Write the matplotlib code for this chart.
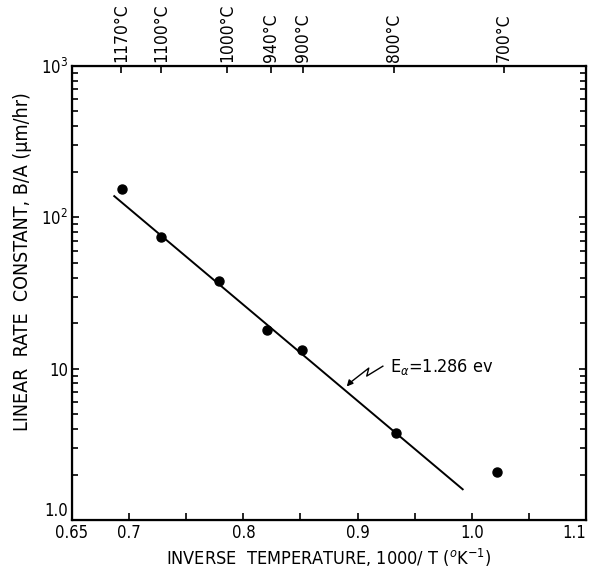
import numpy as np
import matplotlib
matplotlib.use("Agg")
import matplotlib.pyplot as plt
from matplotlib.ticker import FixedLocator, NullFormatter

plt.rcParams['font.family'] = ['DejaVu Sans']
plt.rcParams['font.stretch'] = 'condensed'
plt.rcParams['mathtext.fontset'] = 'dejavusans'

# measured points: inverse temperature (1000/T) vs linear rate constant B/A
inv_temp = [0.694, 0.728, 0.779, 0.821, 0.8515, 0.9335, 1.0216]
rate = [155, 74, 38, 18.0, 13.3, 3.78, 2.08]

# fitted line end points
fit_x = [0.687, 0.992]
fit_y = [138, 1.60]

# temperatures shown on the top axis
top_temps = [1170, 1100, 1000, 940, 900, 800, 700]

fig = plt.figure(figsize=(5.95, 5.78), dpi=100)
ax = fig.add_axes([0.121, 0.100, 0.864, 0.786])

ax.plot(fit_x, fit_y, color='black', lw=1.4)
ax.plot(inv_temp, rate, 'o', color='black', ms=6.5)

ax.set_yscale('log')
ax.set_xlim(0.65, 1.1)
ax.set_ylim(1, 1000)

ax.xaxis.set_major_locator(FixedLocator([0.65, 0.7, 0.8, 0.9, 1.0, 1.1]))
ax.set_xticklabels(['0.65', '0.7', '0.8', '0.9', '1.0', '1.1'], fontsize=12)
ax.xaxis.set_minor_locator(FixedLocator([0.75, 0.85, 0.95, 1.05]))
ax.set_yticks([1, 10, 100, 1000])
ax.set_yticklabels(['1.0', '10', r'10$^2$', r'10$^3$'], fontsize=12)
ax.yaxis.set_minor_formatter(NullFormatter())

ax.tick_params(which='both', direction='in', length=5, width=1.2, top=False, right=True)
ax.tick_params(axis='y', which='minor', length=4)
ax.tick_params(axis='x', which='minor', length=5)
ax.tick_params(axis='x', pad=3)
ax.tick_params(axis='y', pad=3)
for s in ax.spines.values():
    s.set_linewidth(1.6)

# nudge crowded corner labels like the original
xl = ax.get_xticklabels()
xl[0].set_ha('center')
xl[-1].set_ha('right')
yl = ax.get_yticklabels()
yl[0].set_va('bottom')

# top axis with temperatures
top = ax.twiny()
top.set_xlim(ax.get_xlim())
top.set_xticks([1000.0 / (t + 273) for t in top_temps])
top.set_xticklabels([f'{t}°C' for t in top_temps], rotation=90, fontsize=12.5)
top.tick_params(direction='in', length=5, width=1.2, pad=3)

ax.set_xlabel('INVERSE  TEMPERATURE, 1000/ T ($^o$K$^{-1}$)', fontsize=13, labelpad=3)
ax.set_ylabel('LINEAR  RATE  CONSTANT, B/A (µm/hr)', fontsize=14, labelpad=4)
ax.yaxis.set_label_coords(-0.078, 0.57)

# activation energy label with zigzag leader
ax.plot([0.9221, 0.908, 0.9098, 0.8935], [10.4, 8.95, 10.1, 8.1], color='black', lw=1.0)
ax.annotate('', xy=(0.8889, 7.4), xytext=(0.8935, 8.1),
            arrowprops=dict(arrowstyle='-|>', color='black', lw=1.0, mutation_scale=9))
ax.text(0.928, 10.3, r'E$_\alpha$=1.286 ev', fontsize=13, va='center', ha='left')

fig.savefig('out.png', dpi=100)
